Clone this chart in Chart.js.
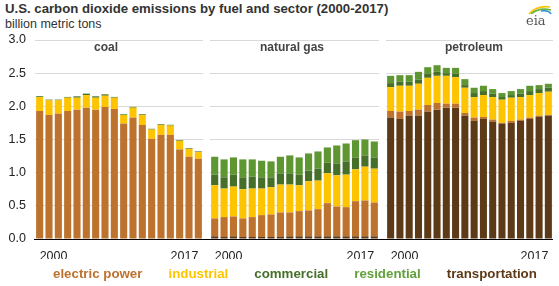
<!DOCTYPE html>
<html><head><meta charset="utf-8">
<script src="https://cdn.jsdelivr.net/npm/chart.js@4"></script>
<style>
html,body{margin:0;padding:0;background:#fff;}
body{width:559px;height:286px;position:relative;overflow:hidden;font-family:"Liberation Sans",Arial,sans-serif;}
canvas{position:absolute;left:0;top:0;}
#title{position:absolute;left:5px;top:1px;font-weight:bold;font-size:13.2px;color:#333;white-space:nowrap;}
#sub{position:absolute;left:5px;top:17px;font-size:12.5px;color:#333;white-space:nowrap;}
.plab{position:absolute;top:40px;font-weight:bold;font-size:12px;color:#444;transform:translateX(-50%);white-space:nowrap;}
#base{position:absolute;left:34px;width:519px;top:238.5px;height:1.5px;background:#000;}
#legend{position:absolute;left:53px;top:266px;display:flex;gap:26px;font-weight:bold;font-size:13.3px;white-space:nowrap;}
#logo{position:absolute;left:520px;top:2px;}
</style>
</head><body>
<div id="title">U.S. carbon dioxide emissions by fuel and sector (2000-2017)</div>
<div id="sub">billion metric tons</div>
<canvas id="cCoal" width="559" height="286"></canvas>
<canvas id="cGas" width="559" height="286"></canvas>
<canvas id="cPet" width="559" height="286"></canvas>
<div id="base"></div>
<div class="plab" style="left:106px">coal</div>
<div class="plab" style="left:292px">natural gas</div>
<div class="plab" style="left:474px">petroleum</div>
<div id="legend">
  <span style="color:#BD732E">electric power</span>
  <span style="color:#FFC400">industrial</span>
  <span style="color:#46702A">commercial</span>
  <span style="color:#62A03A">residential</span>
  <span style="color:#5C3A17">transportation</span>
</div>
<svg id="logo" width="34" height="26" viewBox="0 0 34 26">
  <path d="M9 12 Q17 3 30 5" stroke="#FFC400" stroke-width="1.6" fill="none"/>
  <path d="M11 12 Q19 5 31 8" stroke="#6BB345" stroke-width="1.6" fill="none"/>
  <path d="M21 9 Q29 8 31 12" stroke="#2A8FD0" stroke-width="1.6" fill="none"/>
  <text x="6" y="23" font-family="DejaVu Serif, serif" font-size="13" fill="#555">eia</text>
</svg>
<script>
const years = ['2000','2001','2002','2003','2004','2005','2006','2007','2008','2009','2010','2011','2012','2013','2014','2015','2016','2017'];
const yTicks = [0, 0.5, 1.0, 1.5, 2.0, 2.5, 3.0];
const sectors = ['transportation','electric power','industrial','commercial','residential'];

// coal (billion metric tons)
const coalTransportation = [0,0,0,0,0,0,0,0,0,0,0,0,0,0,0,0,0,0];
const coalElectric = [1.93,1.87,1.89,1.93,1.95,1.98,1.95,1.99,1.96,1.74,1.83,1.72,1.51,1.57,1.57,1.35,1.24,1.21];
const coalIndustrial = [0.21,0.22,0.20,0.20,0.18,0.19,0.18,0.17,0.17,0.13,0.15,0.15,0.14,0.15,0.14,0.13,0.12,0.10];
const coalCommercial = [0.012,0.010,0.010,0.010,0.020,0.020,0.020,0.020,0.010,0.010,0.010,0.010,0.010,0.010,0.010,0.010,0.010,0.010];
const coalResidential = [0.003,0.002,0.002,0.002,0.003,0.003,0.003,0.003,0.002,0.002,0.002,0.002,0.002,0.002,0.002,0.002,0.002,0.002];

// natural gas
const gasTransportation = [0.04,0.03,0.04,0.03,0.03,0.03,0.03,0.03,0.04,0.04,0.04,0.04,0.04,0.04,0.04,0.04,0.04,0.04];
const gasElectric = [0.27,0.30,0.30,0.28,0.30,0.33,0.34,0.37,0.36,0.38,0.39,0.41,0.50,0.45,0.44,0.53,0.54,0.51];
const gasIndustrial = [0.50,0.43,0.45,0.44,0.43,0.40,0.41,0.42,0.42,0.39,0.44,0.43,0.45,0.47,0.49,0.48,0.51,0.51];
const gasCommercial = [0.16,0.17,0.18,0.18,0.18,0.17,0.15,0.17,0.17,0.16,0.16,0.18,0.16,0.18,0.20,0.18,0.17,0.17];
const gasResidential = [0.27,0.27,0.26,0.27,0.26,0.25,0.24,0.25,0.27,0.26,0.26,0.26,0.23,0.27,0.27,0.26,0.24,0.24];

// petroleum
const petTransportation = [1.83,1.81,1.86,1.86,1.92,1.95,1.98,1.98,1.86,1.78,1.81,1.77,1.74,1.75,1.78,1.81,1.84,1.86];
const petElectric = [0.10,0.11,0.07,0.09,0.10,0.10,0.06,0.06,0.04,0.05,0.03,0.03,0.01,0.03,0.02,0.02,0.02,0.01];
const petIndustrial = [0.36,0.39,0.38,0.39,0.41,0.41,0.42,0.40,0.38,0.31,0.33,0.34,0.35,0.35,0.34,0.34,0.34,0.35];
const petCommercial = [0.06,0.06,0.06,0.06,0.06,0.06,0.04,0.05,0.04,0.06,0.06,0.05,0.04,0.04,0.05,0.06,0.06,0.06];
const petResidential = [0.11,0.10,0.10,0.12,0.10,0.10,0.08,0.09,0.09,0.08,0.08,0.07,0.06,0.06,0.07,0.08,0.06,0.06];

const colors = ['#5C3A17','#BD732E','#FFC400','#46702A','#5E9732'];
const FONT = '"Liberation Sans", Arial, sans-serif';

function makePanel(id, series, padLeft, padRight, axisWidth) {
  const showY = axisWidth > 0;
  new Chart(document.getElementById(id), {
    type: 'bar',
    data: {
      labels: years,
      datasets: series.map((d, i) => ({
        label: sectors[i], data: d, backgroundColor: colors[i], borderWidth: 0,
        barPercentage: 0.76, categoryPercentage: 1
      }))
    },
    options: {
      responsive: false, animation: false,
      layout: { padding: { left: padLeft, right: padRight, top: 40, bottom: 27 } },
      plugins: { legend: { display: false }, tooltip: { enabled: false } },
      scales: {
        x: {
          stacked: true,
          grid: { display: false }, border: { display: false },
          ticks: {
            autoSkip: false, maxRotation: 0, minRotation: 0, align: 'inner', padding: 2,
            color: '#222', font: { size: 12.5, family: FONT },
            callback: (v, i, t) => (i === 0 || i === t.length - 1) ? years[i] : ''
          },
          afterFit: s => { s.height = 20; s.paddingLeft = 0; s.paddingRight = 0; }
        },
        y: {
          stacked: true, min: 0, max: 3,
          afterBuildTicks: s => { s.ticks = yTicks.map(v => ({ value: v })); },
          ticks: { display: showY, padding: 9, color: '#222', font: { size: 12.5, family: FONT },
                   callback: v => Number(v).toFixed(1) },
          grid: { color: '#d9d9d9', drawTicks: false, lineWidth: 1 },
          border: { display: false },
          afterFit: s => { s.width = axisWidth; s.paddingTop = 0; s.paddingBottom = 0; }
        }
      }
    }
  });
}

makePanel('cCoal', [coalTransportation, coalElectric, coalIndustrial, coalCommercial, coalResidential], 0, 356, 35);
makePanel('cGas', [gasTransportation, gasElectric, gasIndustrial, gasCommercial, gasResidential], 210, 180, 0);
makePanel('cPet', [petTransportation, petElectric, petIndustrial, petCommercial, petResidential], 386, 6, 0);
</script>
</body></html>
